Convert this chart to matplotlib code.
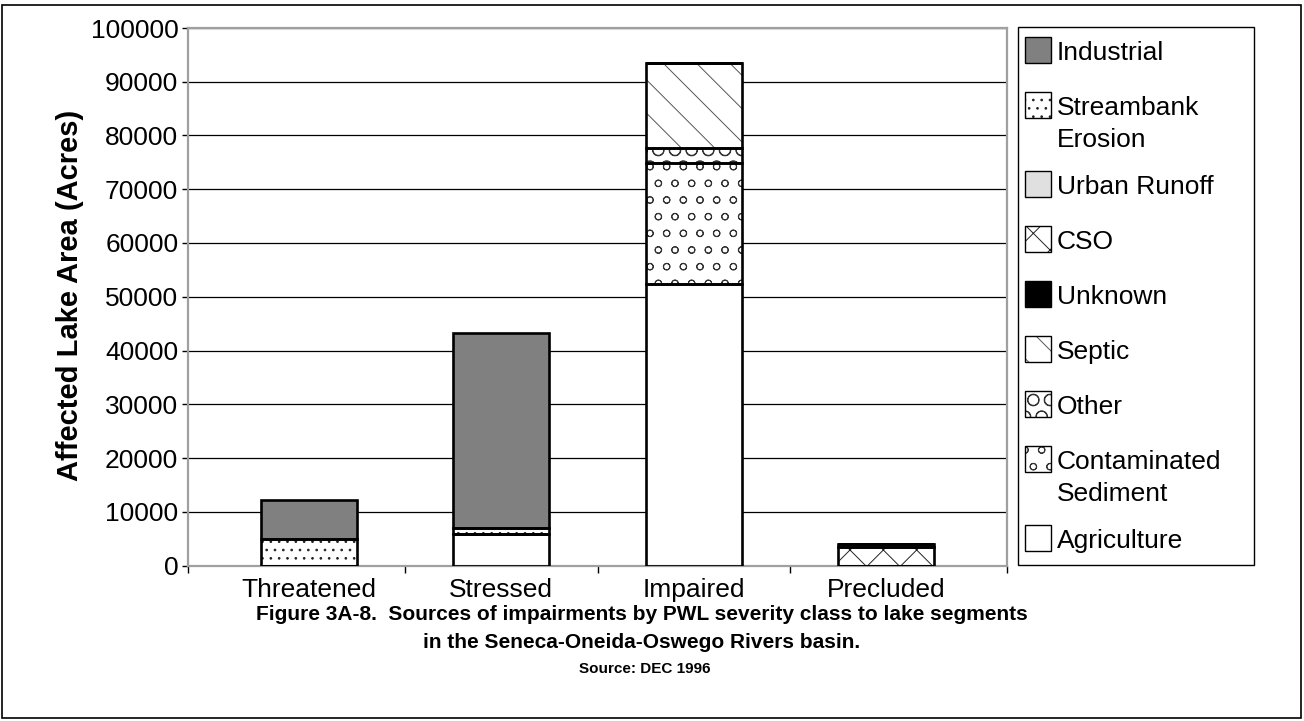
import matplotlib
matplotlib.use("Agg")
import matplotlib.pyplot as plt
import numpy as np
from matplotlib.patches import Rectangle

plt.rcParams["font.family"] = ["Liberation Sans", "DejaVu Sans"]
plt.rcParams["hatch.linewidth"] = 0.7

# --- data (acres) -------------------------------------------------------
categories = ["Threatened", "Stressed", "Impaired", "Precluded"]

agriculture = [0, 5800, 52400, 0]
contaminated_sediment = [0, 0, 22500, 0]
other = [0, 0, 2800, 0]
septic = [0, 0, 15800, 0]
unknown = [0, 0, 0, 0]
cso = [0, 0, 0, 3400]
urban_runoff = [0, 0, 0, 600]
streambank_erosion = [4900, 1200, 0, 0]
industrial = [7200, 36200, 0, 0]

# stacking order bottom -> top: (label, values, face colour, hatch, hatch colour)
series = [
    ("Agriculture", agriculture, "white", None, "black"),
    ("Contaminated\nSediment", contaminated_sediment, "white", "o", "#333333"),
    ("Other", other, "white", "O", "#333333"),
    ("Septic", septic, "white", "\\", "#555555"),
    ("Unknown", unknown, "black", None, "black"),
    ("CSO", cso, "white", "x", "#222222"),
    ("Urban Runoff", urban_runoff, "#e0e0e0", None, "black"),
    ("Streambank\nErosion", streambank_erosion, "white", "..", "#222222"),
    ("Industrial", industrial, "#808080", None, "black"),
]

FS = 19
W, H = 1304, 721
fig = plt.figure(figsize=(W / 100, H / 100), dpi=100)

ax = fig.add_axes([188 / W, 1 - 565.5 / H, (1007 - 188) / W, (565.5 - 28) / H])
x = np.arange(len(categories))
bottom = np.zeros(len(categories))
for name, vals, fc, hatch, hc in series:
    vals = np.array(vals, dtype=float)
    ax.bar(x, vals, 0.5, bottom=bottom, color=fc, hatch=hatch,
           edgecolor=hc, linewidth=0, zorder=2)
    ax.bar(x, vals, 0.5, bottom=bottom, fill=False,
           edgecolor="black", linewidth=1.9, zorder=3)
    bottom += vals

ax.set_xlim(-0.627, 3.627)
ax.set_ylim(0, 100000)
ax.set_yticks(np.arange(0, 100001, 10000))
ax.set_yticklabels([str(v) for v in range(0, 100001, 10000)], fontsize=FS)
ax.set_xticks(x)
ax.set_xticklabels(categories, fontsize=FS)
ax.set_xticks([-0.627, 0.5, 1.5, 2.5, 3.627], minor=True)
ax.tick_params(axis="x", which="major", length=0, pad=9)
ax.tick_params(axis="x", which="minor", length=5, width=1, color="black")
ax.tick_params(axis="y", length=4, width=1, color="black", pad=3)
ax.grid(axis="y", color="black", linewidth=0.9)
ax.set_axisbelow(True)
for s in ax.spines.values():
    s.set_color("#a0a0a0")
    s.set_linewidth(1.6)

fig.text(70 / W, 1 - 295 / H, "Affected Lake Area (Acres)", rotation=90,
         fontsize=21, fontweight="bold", ha="center", va="center")

fig.text(642 / W, 1 - 615 / H,
         "Figure 3A-8.  Sources of impairments by PWL severity class to lake segments",
         fontsize=15, fontweight="bold", ha="center", va="center")
fig.text(642 / W, 1 - 642 / H, "in the Seneca-Oneida-Oswego Rivers basin.",
         fontsize=15, fontweight="bold", ha="center", va="center")
fig.text(645 / W, 1 - 669 / H, "Source: DEC 1996",
         fontsize=11, fontweight="bold", ha="center", va="center")

# --- overlay in pixel coordinates: legend box and outer frame ------------
ov = fig.add_axes([0, 0, 1, 1])
ov.set_xlim(0, W)
ov.set_ylim(H, 0)
ov.axis("off")
ov.add_patch(Rectangle((2, 5), W - 5, H - 8, fill=False,
                       edgecolor="black", linewidth=1.2))
ov.add_patch(Rectangle((1018, 27), 236, 538, facecolor="white",
                       edgecolor="black", linewidth=1.0))

y = 53
for name, vals, fc, hatch, hc in reversed(series):
    ov.add_patch(Rectangle((1025, y - 16), 26, 26, facecolor=fc, hatch=hatch,
                           edgecolor=hc, linewidth=0))
    ov.add_patch(Rectangle((1025, y - 16), 26, 26, fill=False,
                           edgecolor="black", linewidth=1.0))
    lines = name.split("\n")
    for i, line in enumerate(lines):
        ov.text(1057, y + i * 32, line, fontsize=FS, ha="left", va="center")
    y += 55 + 24 * (len(lines) - 1)

fig.savefig("out.png", dpi=100)
